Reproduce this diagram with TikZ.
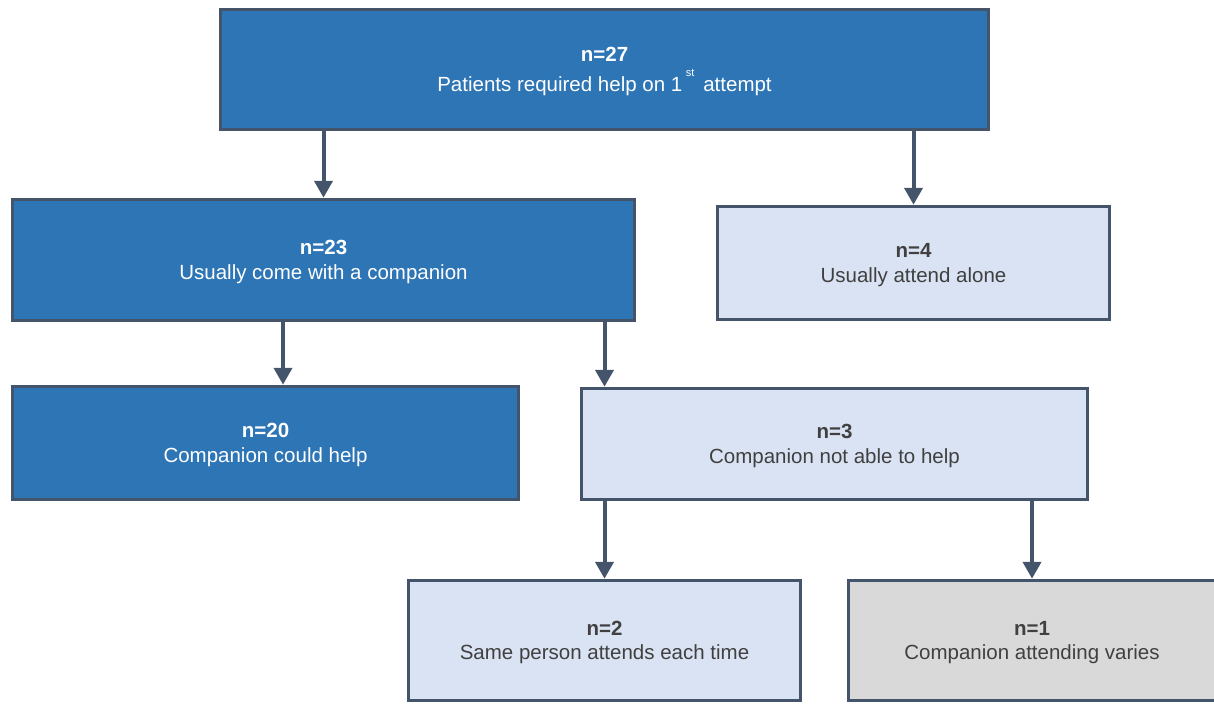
\documentclass[tikz,border=0pt]{standalone}
\usepackage{fontspec}
\setmainfont{Liberation Sans}
\usetikzlibrary{arrows.meta}
\definecolor{boxblue}{HTML}{2E75B6}
\definecolor{boxlight}{HTML}{DAE3F3}
\definecolor{boxgrey}{HTML}{D9D9D9}
\definecolor{edge}{HTML}{44546A}
\definecolor{txtgrey}{HTML}{404040}

\begin{document}
\begin{tikzpicture}[x=1pt, y=-1pt,
    box/.style={rectangle, draw=edge, line width=3.5pt, align=center, inner sep=0pt,
        text depth=0pt, font=\fontsize{20.5}{24.5}\selectfont},
    darkbox/.style={box, fill=boxblue, text=white},
    lightbox/.style={box, fill=boxlight, text=txtgrey},
    greybox/.style={box, fill=boxgrey, text=txtgrey},
    arr/.style={-{Triangle[width=18pt, length=17pt]}, line width=4pt, draw=edge}]
    \useasboundingbox (0,0) rectangle (1214,704);
    \clip (0,0) rectangle (1214,704);
    \node[darkbox, minimum width=768pt, minimum height=120pt] (top) at (604.5,69.5)
        {\textbf{n=27}\\[6pt]Patients required help on 1\,\raisebox{0.75em}{\fontsize{11}{11}\selectfont st}\hspace{9pt}attempt};
    \node[darkbox, minimum width=622pt, minimum height=121pt] (c23) at (323.5,260) {\textbf{n=23}\\Usually come with a companion};
    \node[lightbox, minimum width=392pt, minimum height=113pt] (alone) at (913.5,263) {\textbf{n=4}\\Usually attend alone};
    \node[darkbox, minimum width=506pt, minimum height=113pt] (c20) at (265.5,443) {\textbf{n=20}\\Companion could help};
    \node[lightbox, minimum width=506pt, minimum height=111pt] (notable) at (834.5,444) {\textbf{n=3}\\Companion not able to help};
    \node[lightbox, minimum width=392pt, minimum height=120pt] (same) at (604.5,640.5) {\textbf{n=2}\\Same person attends each time};
    \node[greybox, minimum width=367pt, minimum height=120pt] (varies) at (1032,640.5) {\textbf{n=1}\\Companion attending varies};
    % connectors
    \coordinate (k20) at (283,0);
    \draw[arr] (top.south -| c23.north) -- (c23.north);
    \draw[arr] (top.south -| alone.north) -- (alone.north);
    \draw[arr] (c23.south -| k20) -- (c20.north -| k20);
    \draw[arr] (c23.south -| same.north) -- (notable.north -| same.north);
    \draw[arr] (notable.south -| same.north) -- (same.north);
    \draw[arr] (notable.south -| varies.north) -- (varies.north);
\end{tikzpicture}
\end{document}
